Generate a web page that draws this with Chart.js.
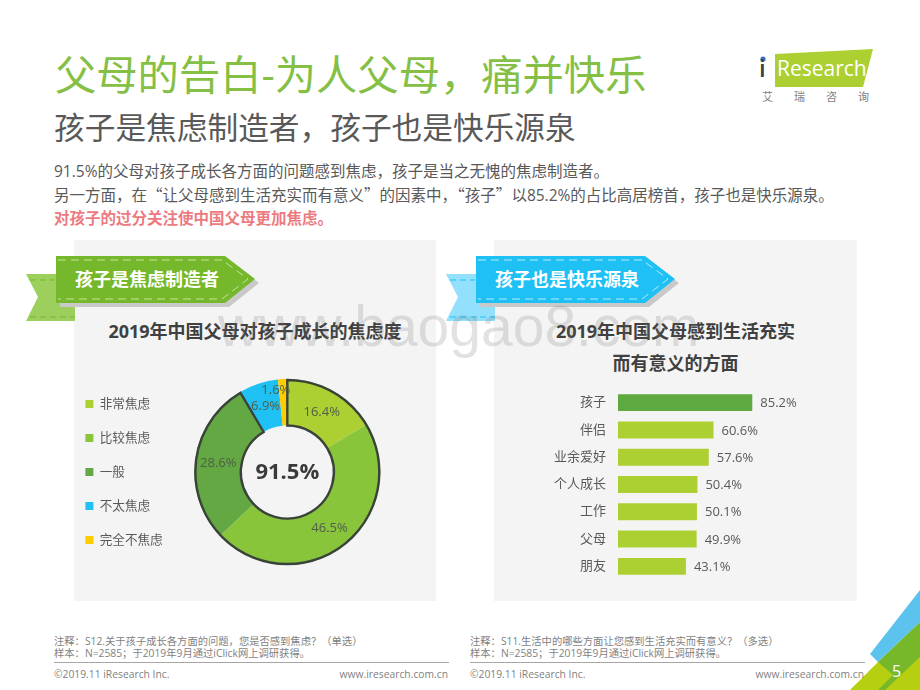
<!DOCTYPE html>
<html lang="zh">
<head>
<meta charset="utf-8">
<title>父母的告白</title>
<script src="https://cdn.jsdelivr.net/npm/chart.js@4"></script>
<style>
  html, body { margin: 0; padding: 0; background: #fff; }
  body { width: 920px; height: 690px; position: relative; overflow: hidden; font-family: "Open Sans", "Noto Sans CJK SC", sans-serif; }
  .abs { position: absolute; white-space: nowrap; }
  .panel { position: absolute; top: 240px; height: 361px; background: #f4f4f4; }
  .chart-title { position: absolute; font-size: 18px; font-weight: 700; color: #404040; text-align: center; line-height: 32px; }
  .note { font-size: 10.3px; line-height: 12px; color: #7f7f7f; }
  .rule { position: absolute; top: 662px; height: 1px; background: #a6a6a6; }
  .cjk { font-family: "Noto Sans CJK SC", sans-serif; }
  svg { position: absolute; left: 0; top: 0; }
  canvas { position: absolute; }
</style>
</head>
<body>
<div class="panel" style="left:74px;width:362px"></div>
<div class="panel" style="left:494px;width:363px"></div>

<svg width="920" height="690" viewBox="0 0 920 690">
  <!-- left tag -->
  <polygon points="26,274 75,274 75,321 26,321 38,297" fill="#9ccf5c"/>
  <polygon points="60,260 229,260 259,283 229,307 60,307" fill="#c9c9c9"/>
  <polygon points="56,256 225,256 255,279 225,303 56,303" fill="#75b82b"/>
  <polyline points="58,260 222,260 248,279 222,299 58,299" fill="none" stroke="#c5e49a" stroke-width="1" stroke-dasharray="8 5"/>
  <polyline points="30,280 55,280" fill="none" stroke="#75b82b" stroke-dasharray="6 4"/>
  <polyline points="30,317 75,317" fill="none" stroke="#75b82b" stroke-dasharray="6 4"/>
  <!-- right tag -->
  <polygon points="446,274 495,274 495,321 446,321 458,297" fill="#92e0fb"/>
  <polygon points="480,260 649,260 679,283 649,307 480,307" fill="#c9c9c9"/>
  <polygon points="476,256 645,256 675,279 645,303 476,303" fill="#1fc1f5"/>
  <polyline points="478,260 642,260 668,279 642,299 478,299" fill="none" stroke="#b5ebfc" stroke-width="1" stroke-dasharray="8 5"/>
  <polyline points="450,280 475,280" fill="none" stroke="#1fc1f5" stroke-dasharray="6 4"/>
  <polyline points="450,317 495,317" fill="none" stroke="#1fc1f5" stroke-dasharray="6 4"/>
  <!-- logo -->
  <polygon points="775,54 873,49 863,87 775,87" fill="#acd032"/>
  <circle cx="763" cy="59" r="2.6" fill="#3c6fc0"/>
  <!-- corner -->
  <polygon points="920,590 870,654 878,662 920,622" fill="#5cc2ee"/>
  <polygon points="878,662 920,622 920,690 870,690" fill="#76b82a"/>
  <polygon points="850,690 878,662 893,675 878,690" fill="#b6cf10"/>
  <polygon points="885,690 920,657 920,690" fill="#b6cf10"/>
</svg>

<div class="abs" style="left:55px;top:46px;font-size:41.3px;line-height:56px;color:#86bf45">父母的告白-为人父母，痛并快乐</div>
<div class="abs" style="left:54px;top:105px;font-size:30.7px;line-height:44px;color:#595959">孩子是焦虑制造者，孩子也是快乐源泉</div>
<div class="abs" style="left:54px;top:160px;font-size:15.5px;line-height:23px;color:#595959">
  91.5%的父母对孩子成长各方面的问题感到焦虑，孩子是当之无愧的焦虑制造者。<br>
  另一方面，在<span class="cjk">“</span>让父母感到生活充实而有意义<span class="cjk">”</span>的因素中，<span class="cjk">“</span>孩子<span class="cjk">”</span>以85.2%的占比高居榜首，孩子也是快乐源泉。<br>
  <b style="color:#ec7a7f">对孩子的过分关注使中国父母更加焦虑。</b>
</div>

<div class="abs" style="left:75px;top:266px;font-size:18px;line-height:27px;font-weight:700;color:#fff">孩子是焦虑制造者</div>
<div class="abs" style="left:495px;top:266px;font-size:18px;line-height:27px;font-weight:700;color:#fff">孩子也是快乐源泉</div>

<div class="chart-title" style="left:74px;width:362px;top:315px">2019年中国父母对孩子成长的焦虑度</div>
<div class="chart-title" style="left:494px;width:363px;top:315px">2019年中国父母感到生活充实<br>而有意义的方面</div>

<canvas id="chart-anxiety" width="373" height="230" style="left:64px;top:357px"></canvas>
<canvas id="chart-meaning" width="320" height="191" style="left:500px;top:389px"></canvas>

<div class="abs" style="left:777px;top:53px;font-size:21px;line-height:30px;color:#fff">Research</div>
<div class="abs" style="left:759px;top:51px;font-size:24px;line-height:34px;font-weight:600;color:#404040">i</div>
<div class="abs" style="left:762px;top:89px;font-size:11px;line-height:16px;letter-spacing:21px;color:#7f7f7f">艾瑞咨询</div>

<div class="abs note" style="left:54px;top:635px">注释：S12.关于孩子成长各方面的问题，您是否感到焦虑？（单选）<br>样本：N=2585；于2019年9月通过iClick网上调研获得。</div>
<div class="abs note" style="left:470px;top:635px">注释：S11.生活中的哪些方面让您感到生活充实而有意义？（多选）<br>样本：N=2585；于2019年9月通过iClick网上调研获得。</div>
<div class="rule" style="left:54px;width:395px"></div>
<div class="rule" style="left:470px;width:395px"></div>
<div class="abs note" style="left:54px;top:668px">©2019.11 iResearch Inc.</div>
<div class="abs note" style="right:472px;top:668px">www.iresearch.com.cn</div>
<div class="abs note" style="left:470px;top:668px">©2019.11 iResearch Inc.</div>
<div class="abs note" style="right:56px;top:668px">www.iresearch.com.cn</div>
<div class="abs" style="left:892px;top:660px;font-size:16px;line-height:22px;color:#fff">5</div>

<div class="abs" style="left:218px;top:293px;font-family:'Liberation Sans',sans-serif;font-size:57px;line-height:66px;color:rgba(110,110,110,.2);pointer-events:none">www.baogao8.com</div>

<script>
  const anxietyLabels = ['非常焦虑', '比较焦虑', '一般', '不太焦虑', '完全不焦虑'];
  const anxietyValues = [16.4, 46.5, 28.6, 6.9, 1.6];
  const anxietyColors = ['#acd032', '#88c53b', '#63a843', '#1fc1f5', '#ffcc00'];
  const anxiousTotal = '91.5%';

  const meaningLabels = ['孩子', '伴侣', '业余爱好', '个人成长', '工作', '父母', '朋友'];
  const meaningValues = [85.2, 60.6, 57.6, 50.4, 50.1, 49.9, 43.1];
  const meaningColors = ['#5fa941', '#acd032', '#acd032', '#acd032', '#acd032', '#acd032', '#acd032'];

  const fontFamily = "'Open Sans', 'Noto Sans CJK SC', sans-serif";
  const textColor = '#595959';
  Chart.defaults.font.family = fontFamily;
  Chart.defaults.color = textColor;
  Chart.defaults.animation = false;
  Chart.defaults.responsive = false;

  const doughnutMarks = {
    id: 'doughnutMarks',
    afterDatasetsDraw(chart) {
      const { ctx } = chart;
      const arcs = chart.getDatasetMeta(0).data;
      const first = arcs[0];
      const last = arcs[2];

      // outline around the three anxious segments
      ctx.save();
      ctx.beginPath();
      ctx.arc(first.x, first.y, first.outerRadius - 1, first.startAngle, last.endAngle);
      ctx.arc(first.x, first.y, first.innerRadius, last.endAngle, first.startAngle, true);
      ctx.closePath();
      ctx.lineWidth = 2.4;
      ctx.strokeStyle = '#39433a';
      ctx.stroke();

      ctx.font = '13px ' + fontFamily;
      ctx.fillStyle = '#4f5f48';
      ctx.textAlign = 'center';
      ctx.textBaseline = 'middle';
      arcs.forEach((arc, i) => {
        const p = arc.tooltipPosition();
        // the smallest slice has its label pushed up and left
        const dx = i === 4 ? -8 : 0;
        const dy = i === 4 ? -13 : 0;
        ctx.fillText(anxietyValues[i].toFixed(1) + '%', p.x + dx, p.y + dy + 1);
      });

      ctx.font = '700 22px ' + fontFamily;
      ctx.fillStyle = '#3a3a3a';
      ctx.fillText(anxiousTotal, first.x, first.y + 1);
      ctx.restore();
    },
  };

  const barValues = {
    id: 'barValues',
    afterDatasetsDraw(chart) {
      const { ctx } = chart;
      ctx.save();
      ctx.font = '13px ' + fontFamily;
      ctx.fillStyle = textColor;
      ctx.textBaseline = 'middle';
      chart.getDatasetMeta(0).data.forEach((bar, i) => {
        ctx.fillText(meaningValues[i].toFixed(1) + '%', bar.x + 8, bar.y + 1);
      });
      ctx.restore();
    },
  };

  new Chart(document.getElementById('chart-anxiety'), {
    type: 'doughnut',
    data: {
      labels: anxietyLabels,
      datasets: [{ data: anxietyValues, backgroundColor: anxietyColors, borderWidth: 0 }],
    },
    options: {
      cutout: '50%',
      radius: 93,
      layout: { padding: { right: 35 } },
      plugins: {
        tooltip: { enabled: false },
        legend: {
          position: 'left',
          labels: { boxWidth: 8, boxHeight: 8, padding: 21.4, color: textColor, font: { size: 12.6 } },
        },
      },
    },
    plugins: [doughnutMarks],
  });

  new Chart(document.getElementById('chart-meaning'), {
    type: 'bar',
    data: {
      labels: meaningLabels,
      datasets: [{ data: meaningValues, backgroundColor: meaningColors, categoryPercentage: 0.62, barPercentage: 1 }],
    },
    options: {
      indexAxis: 'y',
      layout: { padding: { right: 44.4 } },
      plugins: { legend: { display: false }, tooltip: { enabled: false } },
      scales: {
        x: { display: false, min: 0, max: 100 },
        y: {
          // tick padding otherwise eats into the plot height
          afterFit(scale) {
            scale.width = 118;
            scale.paddingTop = 0;
            scale.paddingBottom = 0;
          },
          grid: { display: false, drawTicks: false },
          border: { display: false },
          ticks: { padding: 12, color: textColor, font: { size: 13 } },
        },
      },
    },
    plugins: [barValues],
  });
</script>
</body>
</html>
